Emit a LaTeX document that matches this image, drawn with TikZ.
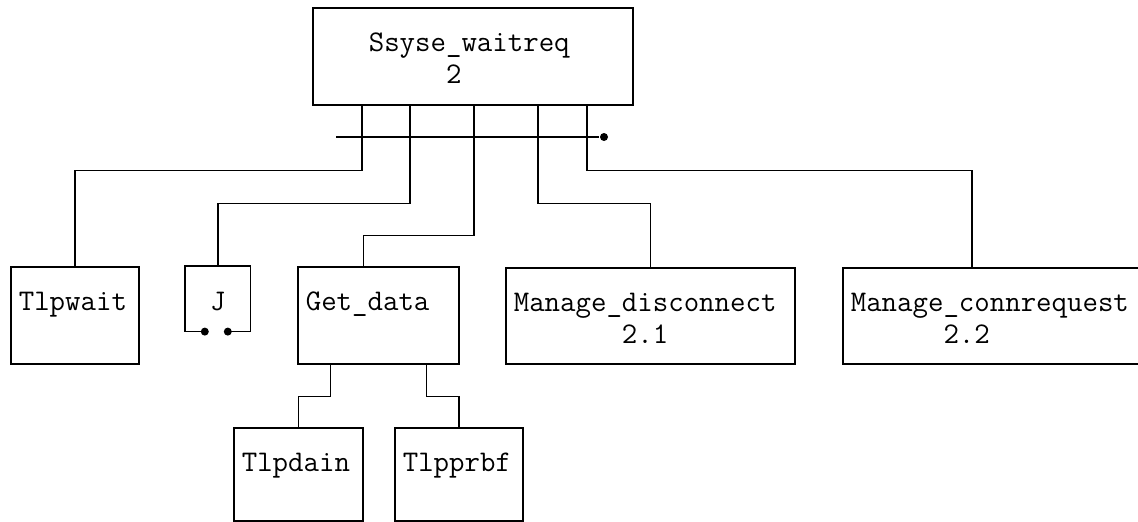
\documentclass[tikz,border=0pt]{standalone}
\usepackage{tikz}

\tikzset{
    modbox/.style={draw, anchor=north west, align=left, inner xsep=8pt, inner ysep=0pt, text height=44pt},
    dot/.style={circle, fill, inner sep=0pt, minimum size=8pt}
}

\begin{document}
\begin{tikzpicture}[x=1pt, y=-1pt, line width=1.6pt, font=\ttfamily\fontsize{30}{32}\selectfont]
    \useasboundingbox (0,0) rectangle (1138,522);
    \clip (0,0) rectangle (1138,522);

    % Boxes
    \node[modbox, inner xsep=56pt, text width=208pt, text depth=53pt] (waitreq) at (312,7) {Ssyse\_waitreq\\\hphantom{00000}2};
    \node[modbox, text width=112pt, text depth=53pt] (tlpwait) at (10,266) {Tlpwait};
    \node[modbox, draw=none, align=center, inner xsep=0pt, text width=64pt, text depth=20pt] (jbox) at (185,266) {J};
    \node[modbox, text width=145pt, text depth=53pt] (getdata) at (297,266) {Get\_data};
    \node[modbox, text width=273pt, text depth=52pt] (discon) at (505,267) {Manage\_disconnect\\\hphantom{0000000}2.1};
    \node[modbox, text width=294pt, text depth=52pt] (connreq) at (842,267) {Manage\_connrequest\\\hphantom{000000}2.2};
    \node[modbox, text width=113pt, text depth=49pt] (tlpdain) at (233,427) {Tlpdain};
    \node[modbox, text width=112pt, text depth=49pt] (tlpprbf) at (394,427) {Tlpprbf};

    % J box, open at the bottom
    \coordinate (jleft) at ([xshift=-13pt]jbox.south);
    \coordinate (jright) at ([xshift=10pt]jbox.south);
    \draw (jleft) -- (jbox.south west) -- (jbox.north west) -- (jbox.north east) -- (jbox.south east) -- (jright);
    \fill (jleft) circle (4pt);
    \fill (jright) circle (4pt);

    % Bus line
    \coordinate (busstart) at (336,137);
    \node[dot] (busend) at (604,137) {};
    \draw (busstart) -- (busend);

    % Links from the top box
    \draw ([xshift=-111pt]waitreq.south) -- ++(0,65) -| (tlpwait.north);
    \draw ([xshift=-63pt]waitreq.south) -- ++(0,98) -| (jbox.north);
    \draw ([xshift=1pt]waitreq.south) -- ++(0,130) -| ([xshift=-15pt]getdata.north);
    \draw ([xshift=65pt]waitreq.south) -- ++(0,98) -| (discon.north);
    \draw ([xshift=114pt]waitreq.south) -- ++(0,65) -| ([xshift=-26pt]connreq.north);

    % Links below Get_data
    \draw ([xshift=-48pt]getdata.south) -- ++(0,32) -| (tlpdain.north);
    \draw ([xshift=48pt]getdata.south) -- ++(0,32) -| (tlpprbf.north);

\end{tikzpicture}
\end{document}
